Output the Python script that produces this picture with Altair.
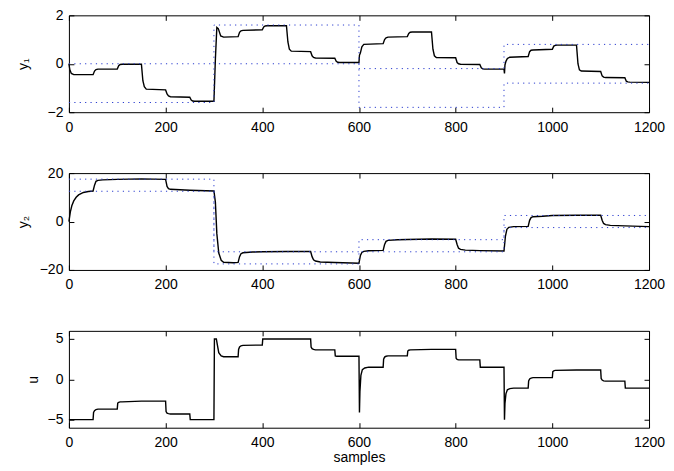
import altair as alt
import pandas as pd

# ---- data ----
x_ticks = [0, 200, 400, 600, 800, 1000, 1200]

t_y1 = [0, 2, 5, 10, 50, 53, 56, 60, 100, 103, 106, 110, 150, 153, 156, 160,
        200, 203, 206, 210, 250, 253, 256, 260, 300, 303, 306, 309, 314, 320,
        350, 353, 356, 360, 400, 403, 406, 410, 450, 453, 456, 460, 500, 503,
        506, 510, 550, 553, 556, 560, 600, 601, 603, 606, 610, 650, 653, 656,
        660, 700, 703, 706, 710, 750, 753, 756, 760, 800, 803, 806, 810, 850,
        853, 856, 860, 900, 901, 902, 904, 907, 912, 950, 953, 956, 960, 1000,
        1003, 1006, 1010, 1050, 1053, 1056, 1060, 1100, 1103, 1106, 1110, 1150,
        1153, 1156, 1160, 1200]
v_y1 = [0, -0.25, -0.4, -0.45, -0.45, -0.3, -0.24, -0.22, -0.22, -0.08, -0.03,
        -0.02, -0.02, -0.7, -0.95, -1.05, -1.08, -1.25, -1.33, -1.36, -1.38,
        -1.5, -1.54, -1.55, -1.55, 0.2, 1.5, 1.45, 1.15, 1.1, 1.12, 1.3, 1.36,
        1.38, 1.4, 1.52, 1.56, 1.57, 1.57, 0.9, 0.6, 0.52, 0.5, 0.33, 0.26,
        0.24, 0.23, 0.1, 0.06, 0.05, 0.05, 0.35, 0.45, 0.7, 0.8, 0.83, 1.0,
        1.07, 1.1, 1.12, 1.25, 1.3, 1.31, 1.31, 0.6, 0.33, 0.26, 0.25, 0.05,
        0.0, -0.02, -0.03, -0.17, -0.21, -0.22, -0.22, -0.4, -0.05, 0.1, 0.22,
        0.27, 0.3, 0.5, 0.56, 0.57, 0.6, 0.73, 0.76, 0.77, 0.77, 0.0, -0.25,
        -0.3, -0.32, -0.5, -0.55, -0.57, -0.58, -0.72, -0.75, -0.76, -0.77]

t_y2 = [0, 3, 6, 10, 15, 20, 30, 40, 50, 53, 56, 60, 70, 100, 150, 200, 203,
        206, 210, 250, 300, 303, 306, 310, 315, 320, 340, 350, 353, 356, 360,
        380, 400, 450, 500, 503, 506, 510, 520, 550, 600, 603, 606, 610, 620,
        650, 653, 656, 660, 680, 700, 750, 800, 803, 806, 810, 820, 850, 900,
        903, 906, 910, 920, 950, 953, 956, 960, 980, 1000, 1050, 1100, 1103,
        1106, 1110, 1120, 1150, 1200]
v_y2 = [0, 4, 6.5, 8.5, 10, 11, 12, 12.4, 12.6, 15, 16.6, 17, 17.2, 17.4, 17.6,
        17.4, 14.5, 13.6, 13.3, 12.9, 12.6, 8, -5, -13, -16, -16.8, -17, -16.9,
        -14.5, -13.3, -12.9, -12.6, -12.5, -12.4, -12.4, -14.5, -15.8, -16.3,
        -16.7, -16.9, -17.2, -14, -12.8, -12.3, -12.1, -11.9, -9.5, -8.2, -7.8,
        -7.5, -7.4, -7.2, -7.3, -9.5, -11.0, -11.5, -11.8, -12, -12.2, -6,
        -3.2, -2.4, -2.1, -2.0, 0.5, 1.6, 2.0, 2.2, 2.5, 2.6, 2.6, 0.5, -0.8,
        -1.3, -1.6, -1.8, -2.1]

t_u = [0, 50, 51, 53, 56, 60, 100, 101, 103, 106, 110, 150, 200, 201, 203, 206,
       210, 250, 251, 300, 301, 305, 307, 310, 315, 320, 350, 351, 353, 356,
       360, 400, 401, 500, 501, 503, 506, 510, 550, 551, 554, 600, 601, 602,
       604, 607, 612, 620, 650, 651, 653, 656, 660, 700, 701, 703, 706, 750,
       800, 801, 803, 806, 810, 850, 851, 900, 901, 902, 904, 907, 912, 920,
       950, 951, 953, 956, 960, 1000, 1001, 1003, 1006, 1050, 1100, 1101, 1103,
       1106, 1110, 1150, 1151, 1200]
v_u = [-5, -5, -4.1, -3.9, -3.75, -3.7, -3.7, -2.95, -2.85, -2.8, -2.8, -2.7,
       -2.7, -4.0, -4.2, -4.25, -4.3, -4.3, -5, -5, 5, 5, 4.3, 3.3, 2.9, 2.8,
       2.8, 3.7, 4.0, 4.15, 4.2, 4.25, 5, 5, 4.0, 3.8, 3.7, 3.65, 3.65, 2.9,
       2.85, 2.85, -4.1, -1.5, 0.5, 1.2, 1.4, 1.5, 1.5, 2.5, 2.75, 2.85, 2.9,
       2.9, 3.5, 3.6, 3.65, 3.7, 3.7, 2.6, 2.45, 2.4, 2.4, 2.4, 1.5, 1.5, -5,
       -3, -1.8, -1.3, -1.15, -1.1, -1.1, -0.2, 0.05, 0.15, 0.2, 0.2, 0.95,
       1.05, 1.1, 1.15, 1.15, 0.1, -0.1, -0.2, -0.23, -0.23, -1.1, -1.1]

t_bound = [0, 300, 600, 900, 1200]
y1_upper = [0, 1.6, -0.2, 0.8, 0.8]
y1_lower = [-1.6, 0, -1.8, -0.8, -0.8]
y2_upper = [17.5, -12.5, -7.5, 2.5, 2.5]
y2_lower = [12.5, -17.5, -12.5, -2.5, -2.5]

FONT = "Liberation Sans"
W, H = 581, 97
DOT = "#2a3ccf"


def panel(t, v, bounds, ydom, yticks, ytitle, xtitle, ymin_ext, ytitle_pad, top_ext):
    df = pd.DataFrame({"t": t, "v": v})
    xs = alt.Scale(domain=[0, 1200], nice=False, zero=False)
    ys = alt.Scale(domain=ydom, nice=False, zero=False)
    xaxis = alt.Axis(values=x_ticks, ticks=False, domain=False, grid=False,
                     labelFlush=False, labelPadding=8, format="d",
                     title=xtitle, titlePadding=1)
    yaxis = alt.Axis(values=yticks, ticks=False, domain=False, grid=False,
                     labelPadding=6, title=ytitle, titlePadding=ytitle_pad,
                     minExtent=ymin_ext)
    line = alt.Chart(df).mark_line(color="black", strokeWidth=1.4).encode(
        x=alt.X("t:Q", scale=xs, axis=xaxis),
        y=alt.Y("v:Q", scale=ys, axis=yaxis),
    )
    layers = [line]
    for b in bounds:
        bdf = pd.DataFrame({"t": t_bound, "v": b})
        layers.append(
            alt.Chart(bdf).mark_line(interpolate="step-after", color=DOT,
                                     strokeWidth=1, strokeDash=[1.2, 4.2]).encode(
                x=alt.X("t:Q", scale=xs, axis=None),
                y=alt.Y("v:Q", scale=ys, axis=None),
            )
        )
    for xo, yo, xext in (("bottom", "left", 0), ("top", "right", top_ext)):
        layers.append(
            alt.Chart(df).mark_line(opacity=0).encode(
                x=alt.X("t:Q", scale=xs, axis=alt.Axis(
                    orient=xo, values=x_ticks, labels=False, domain=False,
                    grid=False, ticks=True, tickSize=5, offset=-5,
                    tickColor="black", title=None, minExtent=xext)),
                y=alt.Y("v:Q", scale=ys, axis=alt.Axis(
                    orient=yo, values=yticks, labels=False, domain=False,
                    grid=False, ticks=True, tickSize=5, offset=-5,
                    tickColor="black", title=None, minExtent=0)),
            )
        )
    return alt.layer(*layers).resolve_axis(x="independent", y="independent").properties(
        width=W, height=H)


p1 = panel(t_y1, v_y1, [y1_upper, y1_lower], [-2, 2], [-2, 0, 2], "y\u2081", None, 30, 8, 0)
p2 = panel(t_y2, v_y2, [y2_upper, y2_lower], [-20, 20], [-20, 0, 20], "y\u2082", None, 30, 8, 0)
p3 = panel(t_u, v_u, [], [-6, 6], [-5, 0, 5], "u", "samples", 20, 6, 12)

chart = alt.vconcat(p1, p2, p3, spacing=30).properties(
    padding={"left": 8, "top": -1, "right": 0, "bottom": 0}
).configure_view(stroke="black", strokeWidth=1).configure_axis(
    labelFont=FONT, titleFont=FONT, labelFontSize=14, titleFontSize=14,
    titleFontWeight="normal", labelColor="black", titleColor="black",
)

chart.save("out.html", embed_options={"renderer": "svg", "actions": False})
